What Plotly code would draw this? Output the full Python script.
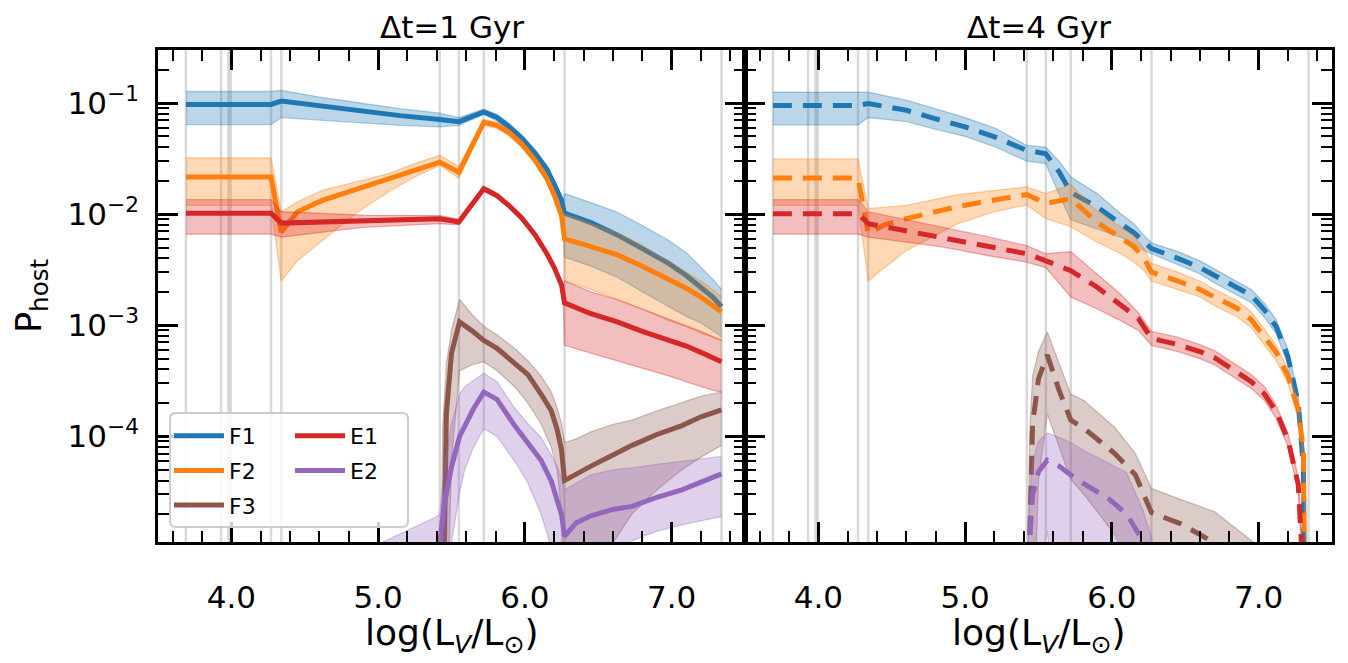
import plotly.graph_objects as go

# ---------------- data ----------------
# vertical reference lines, log(L_V/L_sun)
VLINES = [3.69, 3.93, 3.98, 3.995, 4.27, 4.34, 5.42, 5.55, 5.72, 6.27, 7.34]

TICK_X = [4.0, 5.0, 6.0, 7.0]
TICK_Y = [1e-4, 1e-3, 1e-2, 1e-1]
TICK_Y_TEXT = ["10<sup>\u22124</sup>", "10<sup>\u22123</sup>", "10<sup>\u22122</sup>", "10<sup>\u22121</sup>"]

PANEL_TITLES = ["\u0394t=1 Gyr", "\u0394t=4 Gyr"]
SERIES = ["F1", "F2", "F3", "E1", "E2"]
COLORS = {"F1": "#1f77b4", "F2": "#ff7f0e", "F3": "#8c564b", "E1": "#d62728", "E2": "#9467bd"}

# ---- Delta t = 1 Gyr ----
F1_1_x = [3.69, 4.27, 4.34, 4.6, 4.9, 5.15, 5.42, 5.55, 5.72, 5.81, 5.89, 5.98, 6.07, 6.15, 6.2, 6.25, 6.262, 6.27, 6.45, 6.63, 6.8, 6.98, 7.1, 7.2, 7.28, 7.34]
F1_1_med = [0.097, 0.097, 0.104, 0.094, 0.083, 0.077, 0.071, 0.068, 0.083, 0.074, 0.0615, 0.048, 0.0352, 0.0253, 0.0185, 0.0133, 0.0112, 0.0102, 0.0084, 0.0065, 0.0049, 0.0036, 0.0028, 0.0022, 0.00179, 0.00147]
F1_1_hi = [0.127, 0.127, 0.130, 0.113, 0.099, 0.089, 0.081, 0.074, 0.088, 0.079, 0.066, 0.0515, 0.0378, 0.0272, 0.020, 0.0144, 0.0121, 0.0153, 0.0127, 0.0104, 0.0079, 0.0058, 0.0045, 0.0033, 0.0026, 0.0021]
F1_1_lo = [0.064, 0.064, 0.074, 0.070, 0.066, 0.063, 0.061, 0.063, 0.079, 0.069, 0.057, 0.0447, 0.0328, 0.0235, 0.0172, 0.0123, 0.0104, 0.0041, 0.0034, 0.0027, 0.0020, 0.00147, 0.0012, 0.00105, 0.0009, 0.00079]

F2_1_x = [3.69, 4.27, 4.34, 4.45, 4.62, 4.85, 5.07, 5.25, 5.42, 5.55, 5.72, 5.81, 5.89, 5.98, 6.07, 6.15, 6.2, 6.25, 6.262, 6.27, 6.45, 6.63, 6.8, 6.98, 7.1, 7.2, 7.28, 7.34]
F2_1_med = [0.0216, 0.0216, 0.0069, 0.0105, 0.0133, 0.0167, 0.021, 0.0248, 0.0294, 0.0238, 0.067, 0.063, 0.0545, 0.0425, 0.0304, 0.0209, 0.0148, 0.0097, 0.0075, 0.0060, 0.0051, 0.0043, 0.0034, 0.0026, 0.00215, 0.00179, 0.00152, 0.00132]
F2_1_hi = [0.032, 0.032, 0.0105, 0.0129, 0.0164, 0.0195, 0.0232, 0.0285, 0.0338, 0.027, 0.071, 0.067, 0.058, 0.0452, 0.0323, 0.0222, 0.0157, 0.0103, 0.0080, 0.0100, 0.0083, 0.0068, 0.0052, 0.0037, 0.003, 0.0025, 0.0021, 0.0018]
F2_1_lo = [0.012, 0.012, 0.0025, 0.0038, 0.0058, 0.0102, 0.0158, 0.0216, 0.0275, 0.021, 0.063, 0.059, 0.051, 0.040, 0.0286, 0.0196, 0.0139, 0.0091, 0.0070, 0.0025, 0.0021, 0.0017, 0.0014, 0.0011, 0.00097, 0.00085, 0.00078, 0.00073]

F3_1_x = [3.69, 5.42, 5.44, 5.45, 5.465, 5.50, 5.555, 5.64, 5.72, 5.81, 5.93, 6.02, 6.11, 6.18, 6.22, 6.25, 6.27, 6.35, 6.45, 6.6, 6.73, 6.9, 7.07, 7.2, 7.34]
F3_1_med = [1e-8, 1e-8, 1e-6, 1.2e-5, 0.00016, 0.00056, 0.00107, 0.00089, 0.00073, 0.00062, 0.00046, 0.00036, 0.00024, 0.00017, 0.000115, 0.000075, 0.00004, 0.000046, 0.000054, 0.000068, 0.000083, 0.000104, 0.000125, 0.00015, 0.000173]
F3_1_hi = [1e-8, 1e-6, 0.00012, 0.00023, 0.00045, 0.0009, 0.00171, 0.00125, 0.00098, 0.00082, 0.00062, 0.00048, 0.00035, 0.00025, 0.00018, 0.00013, 0.000088, 0.000095, 0.00011, 0.000128, 0.00014, 0.00017, 0.0002, 0.00023, 0.00025]
F3_1_lo = [1e-8, 1e-8, 1e-8, 1e-8, 1e-6, 0.00006, 0.00039, 0.00044, 0.00047, 0.00039, 0.00028, 0.0002, 0.00013, 0.00008, 0.00005, 0.00002, 1e-8, 1e-8, 1e-8, 1.1e-5, 0.00002, 0.000033, 0.00005, 0.000065, 0.000083]

E1_1_x = [3.69, 4.27, 4.34, 4.9, 5.42, 5.55, 5.72, 5.81, 5.89, 5.98, 6.07, 6.15, 6.2, 6.25, 6.262, 6.27, 6.45, 6.63, 6.8, 6.98, 7.1, 7.2, 7.28, 7.34]
E1_1_med = [0.0102, 0.0102, 0.0083, 0.0088, 0.0091, 0.0085, 0.0169, 0.0147, 0.012, 0.0092, 0.0065, 0.0044, 0.0033, 0.0023, 0.0019, 0.00159, 0.00127, 0.00107, 0.00088, 0.00074, 0.00065, 0.00057, 0.00051, 0.00047]
E1_1_hi = [0.0135, 0.0135, 0.0105, 0.0098, 0.0097, 0.0090, 0.0178, 0.0155, 0.0126, 0.0097, 0.0068, 0.0046, 0.0035, 0.0024, 0.0020, 0.0025, 0.0020, 0.0017, 0.0014, 0.00115, 0.001, 0.00088, 0.00079, 0.00073]
E1_1_lo = [0.0066, 0.0066, 0.0062, 0.0076, 0.0082, 0.0080, 0.0160, 0.0139, 0.0114, 0.0087, 0.0062, 0.0042, 0.0031, 0.0022, 0.0018, 0.00066, 0.00056, 0.00048, 0.00041, 0.00035, 0.00031, 0.00028, 0.00026, 0.00025]

E2_1_x = [3.69, 5.0, 5.02, 5.40, 5.42, 5.45, 5.50, 5.555, 5.59, 5.65, 5.72, 5.81, 5.93, 6.02, 6.11, 6.18, 6.22, 6.25, 6.27, 6.35, 6.45, 6.6, 6.73, 6.9, 7.07, 7.2, 7.34]
E2_1_med = [1e-8, 1e-8, 1e-8, 5e-6, 1.1e-5, 0.000024, 0.000053, 0.0001, 0.000125, 0.000177, 0.00025, 0.000215, 0.000125, 0.000089, 0.000061, 0.0000395, 0.000027, 0.0000197, 0.0000126, 0.0000167, 0.0000193, 0.000022, 0.0000234, 0.0000283, 0.000033, 0.0000386, 0.000046]
E2_1_hi = [1e-8, 1e-8, 1.1e-5, 1.9e-5, 0.00002, 0.00005, 0.00013, 0.00024, 0.00028, 0.00032, 0.00037, 0.00031, 0.00018, 0.00013, 0.000098, 0.000068, 0.000053, 0.000042, 0.000033, 0.000038, 0.000045, 0.00005, 0.000052, 0.000056, 0.00006, 0.000063, 0.000066]
E2_1_lo = [1e-8, 1e-8, 1e-8, 1e-8, 1e-8, 1e-8, 1.1e-5, 0.000031, 0.00005, 0.00008, 0.000117, 0.0001, 0.00006, 0.000038, 0.00002, 1e-5, 1e-6, 1e-8, 1e-8, 1e-8, 1e-8, 1e-8, 1.15e-5, 1.4e-5, 1.6e-5, 1.75e-5, 0.000019]

# ---- Delta t = 4 Gyr ----
F1_4_x = [3.69, 4.27, 4.34, 4.6, 4.8, 5.0, 5.21, 5.42, 5.55, 5.64, 5.72, 5.90, 6.06, 6.15, 6.22, 6.27, 6.45, 6.6, 6.7, 6.85, 6.95, 7.04, 7.12, 7.20, 7.27, 7.305, 7.32, 7.33]
F1_4_med = [0.095, 0.095, 0.099, 0.086, 0.072, 0.061, 0.049, 0.0375, 0.035, 0.024, 0.0157, 0.0116, 0.0082, 0.0068, 0.0056, 0.0049, 0.004, 0.0033, 0.0028, 0.0022, 0.00186, 0.00137, 0.00097, 0.00052, 0.0002, 0.000053, 0.000008, 1e-8]
F1_4_hi = [0.125, 0.125, 0.125, 0.106, 0.088, 0.074, 0.059, 0.0415, 0.040, 0.030, 0.0216, 0.0153, 0.0101, 0.0082, 0.0064, 0.0055, 0.0046, 0.0038, 0.0032, 0.0025, 0.0021, 0.00157, 0.00112, 0.0006, 0.00023, 0.000062, 0.000009, 1e-8]
F1_4_lo = [0.0637, 0.0637, 0.074, 0.068, 0.058, 0.050, 0.040, 0.030, 0.0285, 0.015, 0.0089, 0.0074, 0.0062, 0.0054, 0.0047, 0.0044, 0.0035, 0.0029, 0.0024, 0.0019, 0.0016, 0.00118, 0.00084, 0.00044, 0.00017, 0.000045, 0.000007, 1e-8]

F2_4_x = [3.69, 4.27, 4.34, 4.45, 4.6, 4.95, 5.2, 5.42, 5.55, 5.72, 5.90, 6.06, 6.15, 6.22, 6.27, 6.45, 6.6, 6.7, 6.85, 6.95, 7.04, 7.12, 7.20, 7.27, 7.305, 7.325, 7.335]
F2_4_med = [0.0211, 0.0211, 0.0067, 0.0080, 0.0091, 0.0117, 0.0134, 0.0150, 0.0125, 0.0138, 0.0084, 0.0062, 0.0051, 0.0040, 0.0030, 0.0025, 0.0021, 0.00179, 0.00143, 0.00112, 0.00079, 0.00057, 0.00035, 0.000173, 0.0000745, 0.000008, 1e-8]
F2_4_hi = [0.0314, 0.0314, 0.0112, 0.0115, 0.0120, 0.0150, 0.0163, 0.0176, 0.0153, 0.0185, 0.0105, 0.0077, 0.0063, 0.0049, 0.0036, 0.003, 0.0025, 0.0021, 0.00168, 0.00132, 0.00092, 0.00066, 0.0004, 0.0002, 0.000085, 9e-6, 1e-8]
F2_4_lo = [0.012, 0.012, 0.0025, 0.0033, 0.0047, 0.0082, 0.0105, 0.0121, 0.0091, 0.0077, 0.0056, 0.0044, 0.0037, 0.0031, 0.0025, 0.0021, 0.0018, 0.0015, 0.0012, 0.00095, 0.00067, 0.00048, 0.0003, 0.000145, 0.00006, 6e-6, 1e-8]

F3_4_x = [3.69, 5.42, 5.43, 5.44, 5.46, 5.50, 5.56, 5.64, 5.72, 5.81, 6.02, 6.16, 6.27, 6.47, 6.70, 6.9, 7.1]
F3_4_med = [1e-8, 1e-8, 1e-6, 1.2e-5, 0.00013, 0.00033, 0.00054, 0.00026, 0.00014, 0.000118, 0.00007, 0.000045, 0.0000206, 0.0000163, 0.000011, 0.000007, 0.000004]
F3_4_hi = [1e-8, 1e-6, 1.2e-5, 0.00011, 0.00035, 0.00058, 0.00087, 0.00045, 0.00024, 0.00021, 0.00012, 0.00007, 0.000034, 0.000027, 0.000021, 0.000013, 0.000008]
F3_4_lo = [1e-8, 1e-8, 1e-8, 1e-8, 1e-6, 0.00004, 0.00016, 0.00008, 0.000041, 0.00003, 0.000013, 5e-6, 1e-8, 1e-8, 1e-8, 1e-8, 1e-8]

E1_4_x = [3.69, 4.27, 4.34, 4.83, 5.17, 5.42, 5.55, 5.72, 5.90, 6.06, 6.18, 6.27, 6.45, 6.6, 6.7, 6.85, 6.95, 7.04, 7.12, 7.20, 7.27, 7.29, 7.305, 7.32]
E1_4_med = [0.0101, 0.0101, 0.0082, 0.0062, 0.0051, 0.0044, 0.0038, 0.0031, 0.0022, 0.0015, 0.00115, 0.00076, 0.00067, 0.00058, 0.00051, 0.00038, 0.00031, 0.00024, 0.000167, 0.000093, 0.000037, 0.000012, 3e-6, 1e-8]
E1_4_hi = [0.0135, 0.0135, 0.0105, 0.0077, 0.0062, 0.0052, 0.0044, 0.0046, 0.0029, 0.0019, 0.0013, 0.00088, 0.00078, 0.00067, 0.00059, 0.00044, 0.00036, 0.00028, 0.00019, 0.000107, 0.000043, 0.000014, 3.5e-6, 1e-8]
E1_4_lo = [0.0066, 0.0066, 0.0062, 0.0051, 0.0042, 0.0037, 0.0033, 0.0018, 0.0014, 0.0011, 0.0009, 0.00066, 0.00058, 0.0005, 0.00044, 0.00033, 0.00027, 0.00021, 0.000145, 0.000081, 0.000032, 0.00001, 2.6e-6, 1e-8]

E2_4_x = [3.69, 5.42, 5.43, 5.44, 5.46, 5.50, 5.56, 5.64, 5.72, 5.83, 5.97, 6.10, 6.21, 6.27, 6.4]
E2_4_med = [1e-8, 1e-8, 1e-6, 1.2e-5, 0.00003, 0.000048, 0.000061, 0.000054, 0.000045, 0.000036, 0.000028, 0.00002, 0.0000115, 6e-6, 1e-8]
E2_4_hi = [1e-8, 1e-6, 1.2e-5, 0.00003, 0.00006, 0.00009, 0.000107, 0.000098, 0.000088, 0.000072, 0.000058, 0.000047, 0.000022, 0.0000125, 1e-8]
E2_4_lo = [1e-8, 1e-8, 1e-8, 1e-8, 1e-6, 6e-6, 1.4e-5, 1e-6, 1e-8, 1e-8, 1e-8, 1e-8, 1e-8, 1e-8, 1e-8]

PANEL_DATA = [
    {"F1": (F1_1_x, F1_1_med, F1_1_lo, F1_1_hi), "F2": (F2_1_x, F2_1_med, F2_1_lo, F2_1_hi),
     "F3": (F3_1_x, F3_1_med, F3_1_lo, F3_1_hi), "E1": (E1_1_x, E1_1_med, E1_1_lo, E1_1_hi),
     "E2": (E2_1_x, E2_1_med, E2_1_lo, E2_1_hi)},
    {"F1": (F1_4_x, F1_4_med, F1_4_lo, F1_4_hi), "F2": (F2_4_x, F2_4_med, F2_4_lo, F2_4_hi),
     "F3": (F3_4_x, F3_4_med, F3_4_lo, F3_4_hi), "E1": (E1_4_x, E1_4_med, E1_4_lo, E1_4_hi),
     "E2": (E2_4_x, E2_4_med, E2_4_lo, E2_4_hi)},
]

# ---------------- figure ----------------
OFF = 8                     # page body margin of the browser
W, H = 1348 - OFF, 663 - OFF
# plot area in screen pixels: x 158..1332, y 50..542
ML, MT = 158 - OFF, 50 - OFF
MR, MB = W - (1332 - OFF), H - (542 - OFF)
PW, PH = W - ML - MR, H - MT - MB
FONT = "DejaVu Sans"


def rgba(hexc, a):
    h = hexc.lstrip("#")
    return "rgba(%d,%d,%d,%s)" % (int(h[0:2], 16), int(h[2:4], 16), int(h[4:6], 16), a)


def px2paper(xs, ys):
    """screen pixel -> paper coordinates"""
    return (xs - OFF - ML) / PW, (MT + PH - (ys - OFF)) / PH


fig = go.Figure()
axes = [("x", "y", "solid"), ("x2", "y2", "19px,11px")]
for p, (xa, ya, dash) in enumerate(axes):
    for name in SERIES:
        x, med, lo, hi = PANEL_DATA[p][name]
        col = COLORS[name]
        fig.add_trace(go.Scatter(x=x, y=lo, xaxis=xa, yaxis=ya, mode="lines",
                                 line=dict(color=rgba(col, 0.35), width=1.3),
                                 showlegend=False, hoverinfo="skip"))
        fig.add_trace(go.Scatter(x=x, y=hi, xaxis=xa, yaxis=ya, mode="lines",
                                 line=dict(color=rgba(col, 0.35), width=1.3),
                                 fill="tonexty", fillcolor=rgba(col, 0.3),
                                 showlegend=False, hoverinfo="skip"))
        fig.add_trace(go.Scatter(x=x, y=med, xaxis=xa, yaxis=ya, mode="lines",
                                 line=dict(color=col, width=5, dash=dash),
                                 name=name, legendgroup=name,
                                 legend="legend" if name.startswith("F") else "legend2",
                                 showlegend=(p == 0)))

shapes = []
for xa in ["x", "x2"]:
    for v in VLINES:
        shapes.append(dict(type="line", xref=xa, yref=("y domain" if xa == "x" else "y2 domain"),
                           x0=v, x1=v, y0=0, y1=1, layer="below",
                           line=dict(color="rgba(128,128,128,0.3)", width=2.5)))

# legend frame (rounded)
x0, y1 = px2paper(170, 413)
x1, y0 = px2paper(408, 527)
rx, ry = 6 / PW, 6 / PH
path = (f"M {x0+rx},{y0} L {x1-rx},{y0} Q {x1},{y0} {x1},{y0+ry} L {x1},{y1-ry} "
        f"Q {x1},{y1} {x1-rx},{y1} L {x0+rx},{y1} Q {x0},{y1} {x0},{y1-ry} "
        f"L {x0},{y0+ry} Q {x0},{y0} {x0+rx},{y0} Z")
shapes.append(dict(type="path", path=path, xref="paper", yref="paper", layer="above",
                   fillcolor="rgba(255,255,255,0.8)", line=dict(color="#cccccc", width=2)))

axis_common = dict(showline=True, linecolor="black", linewidth=2.5, mirror="allticks",
                   ticks="inside", ticklen=20, tickwidth=2.5, tickcolor="black",
                   showgrid=False, zeroline=False, automargin=False)
xcommon = dict(range=[3.5, 7.5], tickmode="array", tickvals=TICK_X, tickformat=".1f",
               tickfont=dict(size=31, family=FONT, color="black"), ticklabelstandoff=26,
               minor=dict(dtick=0.2, tick0=3.6, ticks="inside", ticklen=11, tickwidth=1.6,
                          tickcolor="black", showgrid=False), **axis_common)
ycommon = dict(type="log", range=[-4.9508, -0.5229], tickmode="array", tickvals=TICK_Y,
               ticktext=TICK_Y_TEXT, tickfont=dict(size=31, family=FONT, color="black"),
               ticklabelstandoff=10,
               minor=dict(dtick="D1", ticks="inside", ticklen=11, tickwidth=1.6,
                          tickcolor="black", showgrid=False), **axis_common)

fig.update_layout(
    width=W, height=H, margin=dict(l=ML, r=MR, t=MT, b=MB, autoexpand=False),
    plot_bgcolor="white", paper_bgcolor="white",
    font=dict(family=FONT, color="black"),
    xaxis=dict(domain=[0, 0.5], anchor="y", **xcommon),
    xaxis2=dict(domain=[0.5, 1], anchor="y2", **xcommon),
    yaxis=dict(domain=[0, 1], anchor="x", **ycommon),
    yaxis2=dict(domain=[0, 1], anchor="x2", matches="y", showticklabels=False,
                **{k: v for k, v in ycommon.items() if k not in ("tickfont", "ticklabelstandoff")}),
    shapes=shapes,
    legend=dict(x=px2paper(169, 0)[0], y=px2paper(0, 415)[1], xanchor="left", yanchor="top",
                bgcolor="rgba(0,0,0,0)", font=dict(size=22, family=FONT, color="black"),
                tracegroupgap=3, itemwidth=50),
    legend2=dict(x=px2paper(290, 0)[0], y=px2paper(0, 415)[1], xanchor="left", yanchor="top",
                 bgcolor="rgba(0,0,0,0)", font=dict(size=22, family=FONT, color="black"),
                 tracegroupgap=3, itemwidth=50),
)

annotations = []
for i, t in enumerate(PANEL_TITLES):
    annotations.append(dict(text=t, x=0.25 + 0.5 * i, y=1, xref="paper", yref="paper",
                            xanchor="center", yanchor="bottom", yshift=4, showarrow=False,
                            borderpad=0, font=dict(size=31, family=FONT, color="black")))
    annotations.append(dict(text="log(L<sub><i>V</i></sub>/L<sub>\u2299</sub>)", x=0.25 + 0.5 * i, y=0,
                            xref="paper", yref="paper", xanchor="center", yanchor="middle",
                            yshift=-93, showarrow=False,
                            font=dict(size=36, family=FONT, color="black")))
annotations.append(dict(text="P<sub>host</sub>", x=0, y=0.5, xref="paper", yref="paper",
                        xanchor="center", yanchor="middle", xshift=-127, textangle=-90,
                        showarrow=False, borderpad=0, font=dict(size=35, family=FONT, color="black")))
fig.update_layout(annotations=annotations)

fig.write_html("out.html")
